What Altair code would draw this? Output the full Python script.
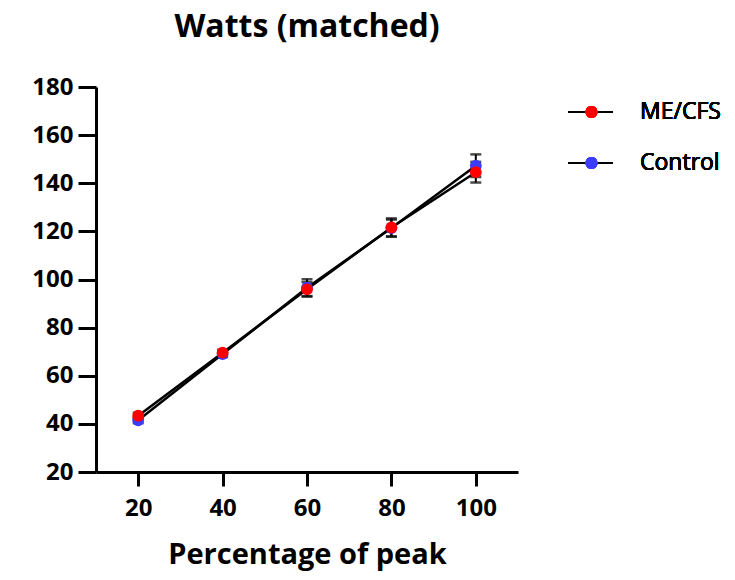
import altair as alt
import pandas as pd

# Watts at each percentage of peak, mean and error per group
pct = [20, 40, 60, 80, 100]
mecfs_mean = [43.4, 69.6, 95.9, 121.6, 144.6]
mecfs_err = [1.2, 1.2, 3.0, 3.8, 4.3]
control_mean = [41.5, 69.0, 96.6, 121.4, 147.3]
control_err = [1.2, 1.2, 3.5, 3.5, 4.7]

groups = ["ME/CFS", "Control"]
colors = {"ME/CFS": "#ff0000", "Control": "#3c3cff"}

rows = []
for g, means, errs in [("ME/CFS", mecfs_mean, mecfs_err), ("Control", control_mean, control_err)]:
    for p, m, e in zip(pct, means, errs):
        rows.append({"pct": p, "watts": m, "err": e, "group": g})
df = pd.DataFrame(rows)

FONT = "Open Sans"
W, H = 422, 385

x = alt.X("pct:Q", scale=alt.Scale(domain=[10, 110], nice=False, zero=False),
          axis=alt.Axis(values=pct, title="Percentage of peak", grid=False,
                        tickSize=14, tickWidth=3, labelPadding=10,
                        titlePadding=20))
y = alt.Y("watts:Q", scale=alt.Scale(domain=[20, 180], nice=False, zero=False),
          axis=alt.Axis(values=list(range(20, 181, 20)), title=None, grid=False,
                        tickSize=18, tickWidth=3, labelPadding=5))

base = alt.Chart(df).transform_calculate(
    lo="datum.watts - datum.err", hi="datum.watts + datum.err"
)

lines = base.mark_line(color="black", strokeWidth=2.5).encode(
    x=x, y=y, detail="group:N"
)

err_rule = base.mark_rule(color="black", strokeWidth=2).encode(
    x="pct:Q", y="lo:Q", y2="hi:Q"
)
caps_hi = base.mark_tick(color="black", thickness=2.5, size=11, orient="horizontal").encode(
    x="pct:Q", y="hi:Q"
)
caps_lo = base.mark_tick(color="black", thickness=2.5, size=11, orient="horizontal").encode(
    x="pct:Q", y="lo:Q"
)

def points(g):
    return base.transform_filter(alt.datum.group == g).mark_circle(
        size=140, opacity=1, color=colors[g]
    ).encode(x="pct:Q", y="watts:Q")

# Legend: a short black line with a coloured dot, then the group name
legend_layers = []
for i, g in enumerate(groups):
    ly = 25 + i * 51
    legend_layers.append(
        alt.Chart(df).mark_rule(color="black", strokeWidth=2).encode(
            x=alt.value(472), x2=alt.value(517), y=alt.value(ly)
        )
    )
    legend_layers.append(
        alt.Chart(df).mark_circle(size=140, opacity=1, color=colors[g]).encode(
            x=alt.value(495.5), y=alt.value(ly)
        )
    )
    legend_layers.append(
        alt.Chart(df).mark_text(text=g, align="left", baseline="middle",
                                font=FONT, fontSize=23, fontWeight="normal",
                                color="black").encode(
            x=alt.value(544), y=alt.value(ly)
        )
    )

chart = alt.layer(
    lines, err_rule, caps_hi, caps_lo, points("Control"), points("ME/CFS"),
    *legend_layers
).properties(
    width=W, height=H,
    title=alt.TitleParams("Watts (matched)", font=FONT, fontSize=32,
                          fontWeight="bold", color="black", offset=31),
    autosize=alt.AutoSizeParams(type="none"),
    padding={"left": 96, "top": 87, "right": 217, "bottom": 108},
).configure(background="white").configure_view(stroke=None).configure_axis(
    domainColor="black", domainWidth=3, tickColor="black",
    labelFont=FONT, labelFontSize=24, labelFontWeight="bold", labelColor="black",
    titleFont=FONT, titleFontSize=29, titleFontWeight="bold", titleColor="black",
)

chart.save("out.html", embed_options={"renderer": "svg", "actions": False})
